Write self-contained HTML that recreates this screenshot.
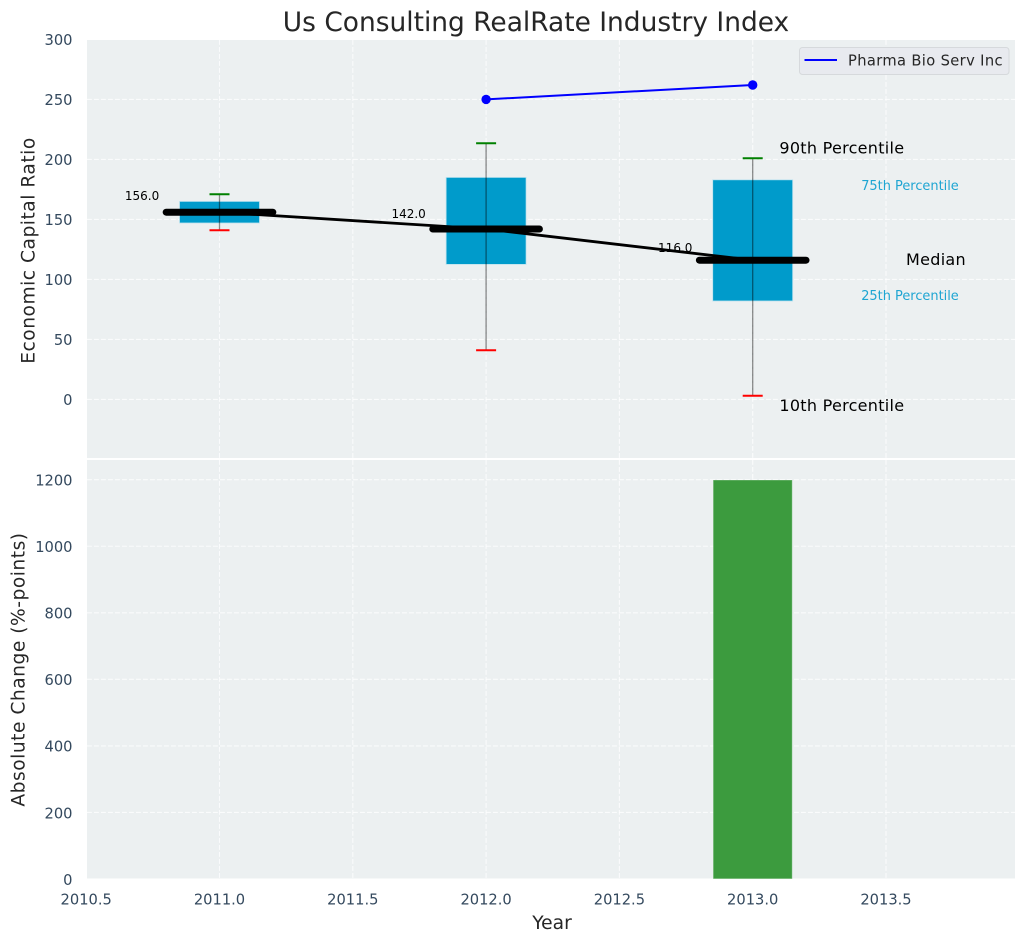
<!DOCTYPE html>
<html lang="en">
<head>
<meta charset="utf-8">
<title>Us Consulting RealRate Industry Index</title>
<style>
html,body{margin:0;padding:0;background:#fff;width:1026px;height:942px;overflow:hidden}
svg{display:block;font-family:"DejaVu Sans","Liberation Sans",sans-serif}
</style>
</head>
<body>
<svg id="chart" xmlns="http://www.w3.org/2000/svg" width="1026" height="942" viewBox="0 0 1026 942">
  <rect x="87" y="40" width="928" height="418" fill="#ecf0f1"/>
  <rect x="87" y="460" width="928" height="418.5" fill="#ecf0f1"/>
  <g id="grid"></g>
  <g id="marks"></g>
  <g id="axes"></g>
  <text x="536" y="31" text-anchor="middle" font-size="26.45" fill="#262626">Us Consulting RealRate Industry Index</text>
  <text transform="translate(34.5,250.5) rotate(-90)" text-anchor="middle" font-size="18.67" letter-spacing="0.5" fill="#262626">Economic Capital Ratio</text>
  <text transform="translate(24.5,669.5) rotate(-90)" text-anchor="middle" font-size="18.67" letter-spacing="0.5" fill="#262626">Absolute Change (%-points)</text>
  <text x="552" y="929" text-anchor="middle" font-size="18.67" fill="#262626">Year</text>
  <g>
    <rect x="799.5" y="47.5" width="209.5" height="27" rx="3" fill="#e8eaef" stroke="#d6d9dc" stroke-width="1"/>
    <line x1="804.5" y1="60" x2="837" y2="60" stroke="#0000ff" stroke-width="2"/>
    <text x="848" y="65.5" font-size="14.67" letter-spacing="0.37" fill="#262626">Pharma Bio Serv Inc</text>
  </g>
</svg>
<script>
const years = [2011, 2012, 2013];
const p90 = [171, 213.5, 201];
const p75 = [165, 185, 183];
const medians = [156, 142, 116];
const p25 = [147, 112.5, 82];
const p10 = [141, 41, 3];
const medianLabels = ["156.0", "142.0", "116.0"];
const medianLabelValues = [166, 151, 123];
const peerYears = [2012, 2013];
const peerValues = [250, 262];
const changeYears = [2013];
const changeValues = [1198];
const xTicks = [2010.5, 2011, 2011.5, 2012, 2012.5, 2013, 2013.5];
const xTickLabels = ["2010.5", "2011.0", "2011.5", "2012.0", "2012.5", "2013.0", "2013.5"];
const topYTicks = [0, 50, 100, 150, 200, 250, 300];
const bottomYTicks = [0, 200, 400, 600, 800, 1000, 1200];

const boxWidthYears = 0.3;
const medianHalfYears = 0.2;

function xScale(v) { return 219.5 + (v - 2011) * 266.6; }
function yTop(v) { return 399.4 - v * 1.2; }
function yBottom(v) { return 879 - v * 0.33275; }

const NS = 'http://www.w3.org/2000/svg';
function make(parentId, tag, props, text) {
  const el = document.createElementNS(NS, tag);
  for (const k in props) el.setAttribute(k, props[k]);
  if (text !== undefined) el.textContent = text;
  document.getElementById(parentId).appendChild(el);
  return el;
}
const gridStyle = { stroke: '#ffffff', 'stroke-width': 1.1, 'stroke-dasharray': '4.9 2.1', 'stroke-opacity': 0.75 };
const tickColor = '#34495e';
let el;

xTicks.forEach((t, i) => {
  const x = xScale(t);
  if (x > 87) {
    el = make('grid', 'line', Object.assign({ x1: x, x2: x, y1: 40, y2: 458 }, gridStyle));
    
    
    el = make('grid', 'line', Object.assign({ x1: x, x2: x, y1: 460, y2: 878.5 }, gridStyle));
    
    
  }
  el = make('axes', 'text', { x: x, y: 904.5, 'text-anchor': 'middle', 'font-size': 14.67, fill: tickColor }, xTickLabels[i]);
  
  
});

topYTicks.forEach(t => {
  const y = yTop(t);
  el = make('grid', 'line', Object.assign({ x1: 87, x2: 1015, y1: y, y2: y }, gridStyle));
  
  
  el = make('axes', 'text', { x: 72.5, y: y + 5.8, 'text-anchor': 'end', 'font-size': 14.67, fill: tickColor }, String(t));
  
  
});

bottomYTicks.forEach(t => {
  const y = yBottom(t);
  if (t > 0) {
    el = make('grid', 'line', Object.assign({ x1: 87, x2: 1015, y1: y, y2: y }, gridStyle));
    
    
  }
  el = make('axes', 'text', { x: 72.5, y: y + 5.8, 'text-anchor': 'end', 'font-size': 14.67, fill: tickColor }, String(t));
  
  
});

// Interquartile boxes
years.forEach((yr, i) => {
  const x0 = xScale(yr - boxWidthYears / 2), x1 = xScale(yr + boxWidthYears / 2);
  el = make('marks', 'rect', { x: x0, y: yTop(p75[i]), width: x1 - x0, height: yTop(p25[i]) - yTop(p75[i]), fill: '#009bcb', stroke: '#bfe3ee', 'stroke-width': 0.8 });
  
  
});

// Whiskers and caps
years.forEach((yr, i) => {
  const x = xScale(yr);
  el = make('marks', 'line', { x1: x, x2: x, y1: yTop(p90[i]), y2: yTop(p10[i]), stroke: '#000000', 'stroke-opacity': 0.45, 'stroke-width': 1.3 });
  
  
  el = make('marks', 'line', { x1: x - 10, x2: x + 10, y1: yTop(p90[i]), y2: yTop(p90[i]), stroke: '#008000', 'stroke-width': 2 });
  
  
  el = make('marks', 'line', { x1: x - 10, x2: x + 10, y1: yTop(p10[i]), y2: yTop(p10[i]), stroke: '#ff0000', 'stroke-width': 2 });
  
  
});

// Median trend line
el = make('marks', 'polyline', { points: years.map((yr, i) => xScale(yr) + ',' + yTop(medians[i])).join(' '), fill: 'none', stroke: '#000000', 'stroke-width': 2.8 });



// Median bars and value labels
years.forEach((yr, i) => {
  const y = yTop(medians[i]);
  el = make('marks', 'line', { x1: xScale(yr - medianHalfYears), x2: xScale(yr + medianHalfYears), y1: y, y2: y, stroke: '#000000', 'stroke-width': 7, 'stroke-linecap': 'round' });
  
  
  el = make('marks', 'text', { x: xScale(yr - 0.355), y: yTop(medianLabelValues[i]), 'font-size': 12, fill: '#000000' }, medianLabels[i]);
  
  
});

// Peer company series
el = make('marks', 'polyline', { points: peerYears.map((yr, i) => xScale(yr) + ',' + yTop(peerValues[i])).join(' '), fill: 'none', stroke: '#0000ff', 'stroke-width': 2 });


peerYears.forEach((yr, i) => {
  el = make('marks', 'circle', { cx: xScale(yr), cy: yTop(peerValues[i]), r: 4.7, fill: '#0000ff' });
  
  
});

// Percentile annotations
el = make('marks', 'text', { x: xScale(2013.1), y: yTop(205), 'font-size': 16, 'letter-spacing': 0.28, fill: '#000000' }, '90th Percentile');


el = make('marks', 'text', { x: xScale(2013.1), y: yTop(-9.5), 'font-size': 16, 'letter-spacing': 0.28, fill: '#000000' }, '10th Percentile');


el = make('marks', 'text', { x: xScale(2013.575), y: yTop(112), 'font-size': 16, 'letter-spacing': 0.3, fill: '#000000' }, 'Median');


el = make('marks', 'text', { x: xScale(2013.407), y: yTop(174.5), 'font-size': 12.93, fill: '#1ea5d2' }, '75th Percentile');


el = make('marks', 'text', { x: xScale(2013.407), y: yTop(83), 'font-size': 12.93, fill: '#1ea5d2' }, '25th Percentile');



// Absolute change bars
changeYears.forEach((yr, i) => {
  const x0 = xScale(yr - boxWidthYears / 2 + 0.003), x1 = xScale(yr + boxWidthYears / 2 - 0.003);
  el = make('marks', 'rect', { x: x0, y: yBottom(changeValues[i]), width: x1 - x0, height: yBottom(0) - 0.5 - yBottom(changeValues[i]), fill: '#3c9b3e', stroke: '#5fae61', 'stroke-width': 0.6 });
  
  
});
</script>
</body>
</html>
